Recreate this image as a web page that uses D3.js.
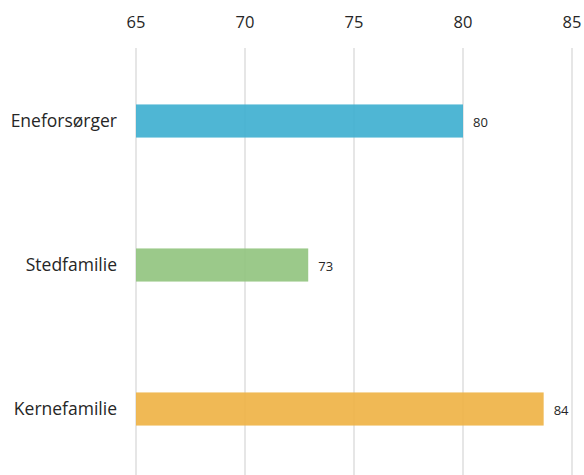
<!DOCTYPE html>
<meta charset="utf-8">
<style>
body { margin: 0; background: #fff; }
text { font-family: "Open Sans", sans-serif; fill: #262626; }
.grid line { stroke: #d9d9d9; stroke-width: 1.3px; }
</style>
<svg width="584" height="475"></svg>
<script src="https://d3js.org/d3.v7.min.js"></script>
<script>

var categories = ["Eneforsørger", "Stedfamilie", "Kernefamilie"];
var values = [80.0, 72.9, 83.7];
var colors = ["#3caecf", "#90c37d", "#eeb142"];
var ticks = [65, 70, 75, 80, 85];

var svg = d3.select("svg");

var x = d3.scaleLinear().domain([65, 85]).range([136, 572]);
var y = d3.scaleBand().domain(categories).range([49, 481])
    .paddingInner(0.77).paddingOuter(0.385);

// vertical grid lines
svg.append("g").attr("class", "grid")
  .selectAll("line")
  .data(ticks)
  .enter().append("line")
    .attr("x1", function(d) { return x(d); })
    .attr("x2", function(d) { return x(d); })
    .attr("y1", 48)
    .attr("y2", 475);

// top tick labels
svg.append("g")
  .selectAll("text")
  .data(ticks)
  .enter().append("text")
    .attr("x", function(d) { return x(d); })
    .attr("y", 22)
    .attr("dy", "0.35em")
    .attr("text-anchor", "middle")
    .style("font-size", "16.5px")
    .text(function(d) { return d; });

var rows = categories.map(function(c, i) { return {cat: c, val: values[i], color: colors[i]}; });

svg.append("g")
  .selectAll("rect")
  .data(rows)
  .enter().append("rect")
    .attr("x", x(65))
    .attr("y", function(d) { return y(d.cat); })
    .attr("width", function(d) { return x(d.val) - x(65); })
    .attr("height", y.bandwidth())
    .attr("fill", function(d) { return d.color; })
    .attr("fill-opacity", 0.9);

// category labels
svg.append("g")
  .selectAll("text")
  .data(rows)
  .enter().append("text")
    .attr("x", 117)
    .attr("y", function(d) { return y(d.cat) + y.bandwidth() / 2; })
    .attr("dy", "0.35em")
    .attr("text-anchor", "end")
    .style("font-size", "17.5px")
    .text(function(d) { return d.cat; });

// value labels
svg.append("g")
  .selectAll("text")
  .data(rows)
  .enter().append("text")
    .attr("x", function(d) { return x(d.val) + 10; })
    .attr("y", function(d) { return y(d.cat) + y.bandwidth() / 2 + 1; })
    .attr("dy", "0.35em")
    .style("font-size", "13px")
    .text(function(d) { return Math.round(d.val); });

</script>
